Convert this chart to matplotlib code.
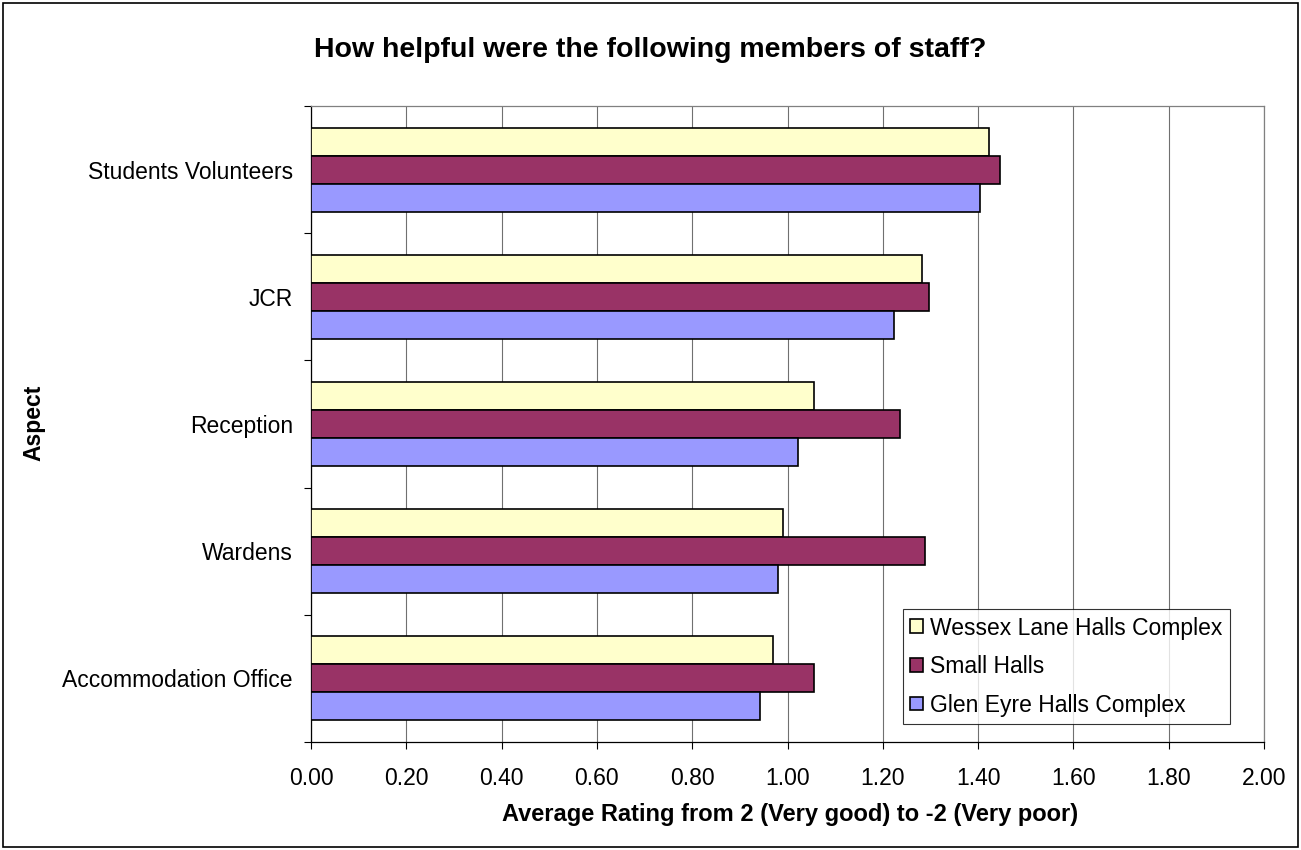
import matplotlib
matplotlib.use("Agg")
import matplotlib.pyplot as plt
import numpy as np
from matplotlib.patches import Rectangle


# DATA

categories = ["Accommodation Office", "Wardens", "Reception", "JCR", "Students Volunteers"]
wessex = [0.969, 0.991, 1.056, 1.283, 1.422]
small_halls = [1.056, 1.288, 1.236, 1.298, 1.445]
glen_eyre = [0.943, 0.981, 1.022, 1.224, 1.403]
series_names = ["Wessex Lane Halls Complex", "Small Halls", "Glen Eyre Halls Complex"]
x_ticks = [0.0, 0.2, 0.4, 0.6, 0.8, 1.0, 1.2, 1.4, 1.6, 1.8, 2.0]

colors = ['#FFFFCC', '#993366', '#9999FF']

plt.rcParams['font.family'] = ['Liberation Sans', 'DejaVu Sans']


# PLOT

fig = plt.figure(figsize=(13.01, 8.5), dpi=100)
ax = fig.add_axes([311 / 1301, 1 - 742 / 850, 953 / 1301, 636 / 850])

y = np.arange(len(categories))
h = 0.22

ax.barh(y + h, wessex, h, color=colors[0], edgecolor='black', linewidth=1.2,
        label=series_names[0], zorder=3)
ax.barh(y, small_halls, h, color=colors[1], edgecolor='black', linewidth=1.2,
        label=series_names[1], zorder=3)
ax.barh(y - h, glen_eyre, h, color=colors[2], edgecolor='black', linewidth=1.2,
        label=series_names[2], zorder=3)

ax.set_xlim(0, 2.0)
ax.set_ylim(-0.5, len(categories) - 0.5)

ax.set_xticks(x_ticks)
ax.set_xticklabels([f"{v:.2f}" for v in x_ticks], fontsize=16.5)
ax.tick_params(axis='x', direction='out', length=5, width=0.8, pad=13, colors='black')

ax.set_yticks(y)
ax.set_yticklabels(categories, fontsize=16.5)
ax.tick_params(axis='y', which='major', length=0, pad=13)
ax.set_yticks(np.arange(-0.5, len(categories), 1.0), minor=True)
ax.tick_params(axis='y', which='minor', direction='out', length=5, width=0.8)

ax.grid(axis='x', color='#707070', linewidth=0.8, zorder=0)
ax.set_axisbelow(True)

ax.spines['left'].set_color('black')
ax.spines['bottom'].set_color('black')
ax.spines['top'].set_color('#808080')
ax.spines['right'].set_color('#808080')
for s in ax.spines.values():
    s.set_linewidth(0.9)

leg = ax.legend(loc='lower left', bbox_to_anchor=((903 - 311) / 953, (742 - 724) / 636),
                fontsize=16.5, frameon=True, fancybox=False, shadow=False,
                handlelength=0.55, handleheight=0.55, handletextpad=0.3,
                labelspacing=0.68, borderpad=0.32, borderaxespad=0)
leg.get_frame().set_edgecolor('black')
leg.get_frame().set_linewidth(0.8)

# TEXT

fig.text(650 / 1301, 1 - 50 / 850, "How helpful were the following members of staff?",
         ha='center', va='center', fontsize=20.5, fontweight='bold')
fig.text(790 / 1301, 1 - 815 / 850, "Average Rating from 2 (Very good) to -2 (Very poor)",
         ha='center', va='center', fontsize=17, fontweight='bold')
fig.text(34 / 1301, 1 - 423 / 850, "Aspect", ha='center', va='center',
         rotation=90, fontsize=16.5, fontweight='bold')

# outer chart border
fig.patches.append(Rectangle((3 / 1301, 3 / 850), 1295 / 1301, 844 / 850,
                             transform=fig.transFigure, fill=False,
                             edgecolor='black', linewidth=1.2))

plt.savefig("out.png", dpi=100)
